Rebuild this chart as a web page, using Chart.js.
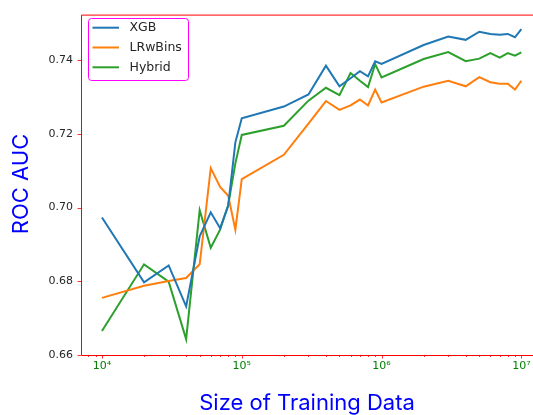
<!DOCTYPE html>
<html>
<head>
<meta charset="utf-8">
<script src="https://cdn.jsdelivr.net/npm/chart.js@4.4.1/dist/chart.umd.min.js"></script>
<style>
  html, body { margin: 0; padding: 0; background: #fff; overflow: hidden; }
  canvas { display: block; }
</style>
</head>
<body>
<canvas id="c" width="533" height="415"></canvas>
<script>
// Training-set sizes (x, log scale)
const trainingSizes = [1e4, 2e4, 3e4, 4e4, 5e4, 6e4, 7e4, 8e4, 9e4,
                       1e5, 2e5, 3e5, 4e5, 5e5, 6e5, 7e5, 8e5, 9e5,
                       1e6, 2e6, 3e6, 4e6, 5e6, 6e6, 7e6, 8e6, 9e6, 1e7];

// ROC AUC per model
const xgbAuc = [0.6973, 0.6797, 0.6843, 0.6732, 0.6922, 0.6987, 0.6944, 0.7005, 0.7177,
                0.7242, 0.7274, 0.7307, 0.7385, 0.7329, 0.7351, 0.7370, 0.7356, 0.7397,
                0.7390, 0.7441, 0.7464, 0.7455, 0.7477, 0.7471, 0.7469, 0.7471, 0.7462, 0.7484];
const lrwbinsAuc = [0.6755, 0.6788, 0.6801, 0.6809, 0.6846, 0.7107, 0.7056, 0.7032, 0.6940,
                    0.7077, 0.7143, 0.7228, 0.7289, 0.7265, 0.7277, 0.7293, 0.7277, 0.7320,
                    0.7285, 0.7328, 0.7344, 0.7329, 0.7354, 0.7340, 0.7336, 0.7336, 0.7320, 0.7344];
const hybridAuc = [0.6665, 0.6846, 0.6799, 0.6643, 0.6993, 0.6891, 0.6940, 0.7007, 0.7120,
                   0.7197, 0.7222, 0.7290, 0.7325, 0.7305, 0.7365, 0.7344, 0.7327, 0.7389,
                   0.7353, 0.7403, 0.7422, 0.7397, 0.7404, 0.7419, 0.7407, 0.7419, 0.7412, 0.7421];

const seriesNames = ['XGB', 'LRwBins', 'Hybrid'];
const seriesColors = ['#1f77b4', '#ff7f0e', '#2ca02c'];

// Axis ticks
const xMajorTicks = [1e4, 1e5, 1e6, 1e7];
const xMajorLabels = ['10\u2074', '10\u2075', '10\u2076', '10\u2077'];
const yTicks = [0.66, 0.68, 0.70, 0.72, 0.74];

const xTitle = 'Size of Training Data';
const yTitle = 'ROC AUC';

const seriesValues = [xgbAuc, lrwbinsAuc, hybridAuc];
const datasets = seriesValues.map((vals, i) => ({
  label: seriesNames[i],
  data: trainingSizes.map((x, j) => ({ x: x, y: vals[j] })),
  borderColor: seriesColors[i],
  borderWidth: 2,
  pointRadius: 0,
  tension: 0,
  fill: false
}));

const inkColor = '#262626';

// Open frame (left, top, bottom) and tick marks
const frame = {
  id: 'frame',
  afterDraw(chart) {
    const ctx = chart.ctx, a = chart.chartArea;
    const xs = chart.scales.x, ys = chart.scales.y;
    ctx.save();
    ctx.strokeStyle = 'red';
    ctx.lineWidth = 1;
    ctx.beginPath();
    ctx.moveTo(a.right, a.top + 0.5);
    ctx.lineTo(a.left + 0.5, a.top + 0.5);
    ctx.lineTo(a.left + 0.5, a.bottom + 0.5);
    ctx.lineTo(a.right, a.bottom + 0.5);
    ctx.stroke();

    ctx.lineWidth = 0.8;
    ctx.beginPath();
    for (let e = 3; e <= 7; e++) {
      for (let m = 1; m <= 9; m++) {
        const v = m * Math.pow(10, e);
        if (v < xs.min || v > xs.max) continue;
        const px = Math.round(xs.getPixelForValue(v)) + 0.5;
        ctx.moveTo(px, a.bottom);
        ctx.lineTo(px, a.bottom + (m === 1 ? 3.5 : 2));
      }
    }
    yTicks.forEach(v => {
      const py = Math.round(ys.getPixelForValue(v)) + 0.5;
      ctx.moveTo(a.left, py);
      ctx.lineTo(a.left - 3.5, py);
    });
    ctx.stroke();
    ctx.restore();
  }
};

// Axis titles
const titles = {
  id: 'titles',
  afterDraw(chart) {
    const ctx = chart.ctx;
    ctx.save();
    ctx.fillStyle = 'blue';
    ctx.font = '22px Inter';
    ctx.textAlign = 'center';
    ctx.textBaseline = 'alphabetic';
    ctx.fillText(xTitle, 307, 410);
    ctx.translate(28, 184);
    ctx.rotate(-Math.PI / 2);
    ctx.fillText(yTitle, 0, 0);
    ctx.restore();
  }
};

// Legend box in the upper-left corner of the plot
const legendBox = {
  id: 'legendBox',
  afterDraw(chart) {
    const ctx = chart.ctx;
    ctx.save();
    ctx.beginPath();
    ctx.roundRect(88.5, 18.5, 100, 62, 3);
    ctx.fillStyle = 'rgba(255,255,255,0.8)';
    ctx.fill();
    ctx.strokeStyle = 'magenta';
    ctx.lineWidth = 1;
    ctx.stroke();
    ctx.font = '12.5px "DejaVu Sans"';
    ctx.textAlign = 'left';
    ctx.textBaseline = 'middle';
    chart.data.datasets.forEach((ds, i) => {
      const y = 27.7 + i * 19.8;
      ctx.beginPath();
      ctx.moveTo(92.5, y);
      ctx.lineTo(119, y);
      ctx.strokeStyle = ds.borderColor;
      ctx.lineWidth = 2;
      ctx.stroke();
      ctx.fillStyle = inkColor;
      ctx.fillText(ds.label, 129.5, y + 0.5);
    });
    ctx.restore();
  }
};

new Chart(document.getElementById('c'), {
  type: 'line',
  data: { datasets: datasets },
  options: {
    responsive: false,
    animation: false,
    devicePixelRatio: 1,
    layout: { padding: { left: 0, top: 11, right: 0, bottom: 0 } },
    plugins: { legend: { display: false }, tooltip: { enabled: false } },
    scales: {
      x: {
        type: 'logarithmic',
        min: 7080,
        max: 1.2114e7,
        grid: { display: false, drawTicks: false },
        border: { display: false },
        afterBuildTicks: s => { s.ticks = xMajorTicks.map(v => ({ value: v })); },
        afterFit: s => { s.height = 60; s.paddingLeft = 0; s.paddingRight = 0; },
        ticks: {
          autoSkip: false,
          maxRotation: 0,
          padding: 5,
          color: 'green',
          font: { family: 'DejaVu Sans', size: 11 },
          callback: (v) => {
            const k = xMajorTicks.indexOf(v);
            return k >= 0 ? xMajorLabels[k] : '';
          }
        }
      },
      y: {
        type: 'linear',
        min: 0.66,
        max: 0.75235,
        grid: { display: false, drawTicks: false },
        border: { display: false },
        afterBuildTicks: s => { s.ticks = yTicks.map(v => ({ value: v })); },
        afterFit: s => { s.width = 81; },
        ticks: {
          padding: 8,
          color: inkColor,
          font: { family: 'DejaVu Sans', size: 11 },
          callback: v => v.toFixed(2)
        }
      }
    }
  },
  plugins: [frame, titles, legendBox]
});
</script>
</body>
</html>
